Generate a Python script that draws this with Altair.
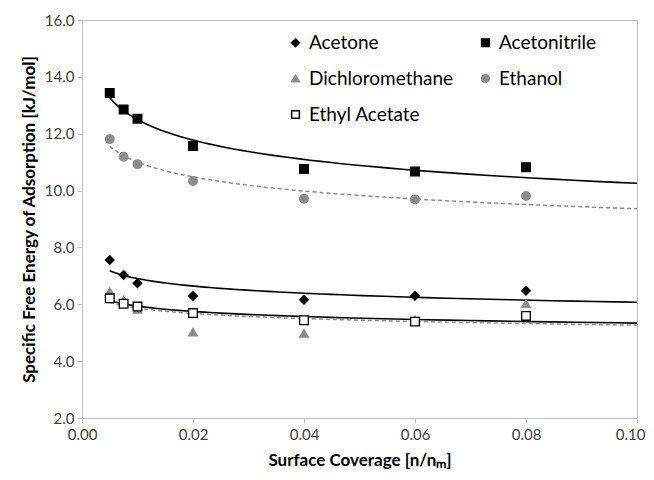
import altair as alt
import pandas as pd

coverage = [0.005, 0.0075, 0.01, 0.02, 0.04, 0.06, 0.08]
solvents = ["Acetone", "Acetonitrile", "Dichloromethane", "Ethanol", "Ethyl Acetate"]
acetone = [7.56, 7.03, 6.74, 6.29, 6.16, 6.30, 6.48]
acetonitrile = [13.43, 12.85, 12.53, 11.57, 10.76, 10.67, 10.82]
dichloromethane = [6.45, 6.15, 5.82, 5.02, 4.98, 5.45, 6.02]
ethanol = [11.81, 11.19, 10.93, 10.34, 9.71, 9.69, 9.81]
ethyl_acetate = [6.21, 6.02, 5.92, 5.69, 5.44, 5.39, 5.59]

x_ticks = [0.0, 0.02, 0.04, 0.06, 0.08, 0.10]
y_ticks = [2, 4, 6, 8, 10, 12, 14, 16]

shapes = ["diamond", "square", "triangle-up", "circle", "square"]
strokes = ["#000000", "#000000", "#8c8c8c", "#8c8c8c", "#000000"]
fills = ["#000000", "#000000", "#8c8c8c", "#8c8c8c", "#ffffff"]

solid_fits = ["Acetone", "Acetonitrile", "Ethyl Acetate"]
dashed_fits = ["Dichloromethane", "Ethanol"]

rows = []
for name, vals in zip(solvents, [acetone, acetonitrile, dichloromethane, ethanol, ethyl_acetate]):
    for xv, yv in zip(coverage, vals):
        rows.append({"Solvent": name, "x": xv, "y": yv})
df = pd.DataFrame(rows)

FONT = "Lato"

x_enc = alt.X(
    "x:Q",
    scale=alt.Scale(domain=[0, 0.1], nice=False, zero=False),
    axis=alt.Axis(
        values=x_ticks, format=".2f", title="Surface Coverage [n/nₘ]",
        grid=False, labelPadding=4, titlePadding=10, labelFlush=False,
        labelAlign={"condition": {"test": "datum.value >= 0.099", "value": "right"}, "value": "center"},
        labelOffset={"condition": {"test": "datum.value >= 0.099", "value": 8}, "value": 0},
    ),
)
y_enc = alt.Y(
    "y:Q",
    scale=alt.Scale(domain=[2, 16], nice=False, zero=False),
    axis=alt.Axis(values=y_ticks, format=".1f",
                  title="Specific Free Energy of Adsorption [kJ/mol]",
                  grid=False, labelPadding=3, titlePadding=6, labelFlush=False),
)

legend = alt.Legend(
    title="", orient="none", legendX=204, legendY=13, columns=2, direction="horizontal",
    columnPadding=22, rowPadding=16, symbolSize=60, labelFontSize=19,
    labelFont=FONT, labelColor="#000000", labelOffset=4,
)

points = alt.Chart(df).mark_point(opacity=1, strokeWidth=1.3, size=75).encode(
    x=x_enc,
    y=y_enc,
    shape=alt.Shape("Solvent:N", scale=alt.Scale(domain=solvents, range=shapes), legend=legend),
    stroke=alt.Stroke("Solvent:N", scale=alt.Scale(domain=solvents, range=strokes), legend=legend),
    fill=alt.Fill("Solvent:N", scale=alt.Scale(domain=solvents, range=fills), legend=legend),
)

solid = alt.Chart(df).transform_filter(
    alt.FieldOneOfPredicate(field="Solvent", oneOf=solid_fits)
).transform_regression(
    "x", "y", groupby=["Solvent"], method="pow", extent=[0.005, 0.1]
).mark_line(color="#000000", strokeWidth=1.6).encode(
    x="x:Q", y="y:Q", detail="Solvent:N"
)

dashed = alt.Chart(df).transform_filter(
    alt.FieldOneOfPredicate(field="Solvent", oneOf=dashed_fits)
).transform_regression(
    "x", "y", groupby=["Solvent"], method="pow", extent=[0.005, 0.1]
).mark_line(color="#8c8c8c", strokeWidth=1.5, strokeDash=[4, 3]).encode(
    x="x:Q", y="y:Q", detail="Solvent:N"
)

chart = alt.layer(solid, dashed, points).properties(
    width=555, height=398,
    padding={"left": 74, "top": 12, "right": 9, "bottom": 58},
    autosize=alt.AutoSizeParams(type="none"),
).configure_view(
    stroke="#bfbfbf", strokeWidth=1
).configure_axis(
    domainColor="#bfbfbf", tickColor="#bfbfbf", tickSize=5,
    labelFont=FONT, labelFontSize=15, labelColor="#404040",
    titleFont=FONT, titleFontSize=17, titleFontWeight="bold", titleColor="#000000",
)

chart.save("out.html", embed_options={"renderer": "svg", "actions": False})
